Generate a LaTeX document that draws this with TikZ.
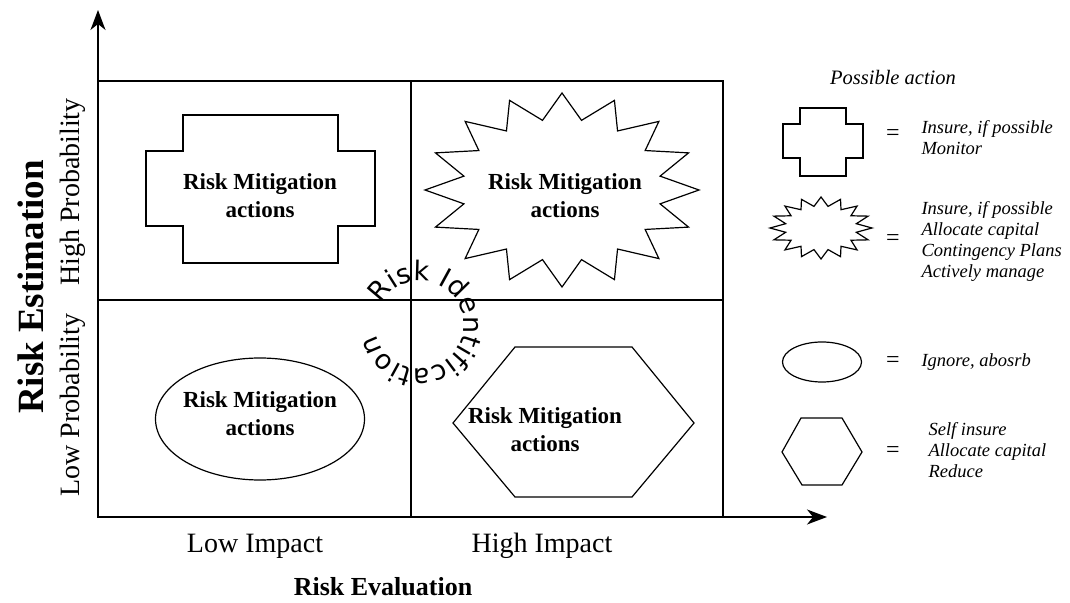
\documentclass[tikz,border=0pt]{standalone}
\usepackage{fontspec}
\setmainfont{Liberation Serif}
\newfontfamily\arcfont{DejaVu Sans}
\usetikzlibrary{arrows.meta,decorations.text}

\begin{document}
\begin{tikzpicture}[x=1pt,y=1pt,
  frame/.style={line width=1.6pt},
  axis/.style={line width=1.6pt,-{Stealth[length=20pt,width=15pt,inset=6pt]}},
  outline/.style={line width=1.2pt},
  axislabel/.style={font=\fontsize{28}{32}\selectfont},
  axistitle/.style={font=\fontsize{26}{30}\selectfont\bfseries},
  celltext/.style={font=\fontsize{23}{28}\selectfont\bfseries, align=center},
  legendtext/.style={font=\fontsize{18.5}{21}\selectfont\itshape, align=left, anchor=west},
  eqsign/.style={font=\fontsize{24}{24}\selectfont},
]
\useasboundingbox (0,0) rectangle (1070,602);

% axes and the 2x2 grid
\coordinate (O) at (98,85);
\coordinate (ytip) at (98,592);
\coordinate (xtip) at (827,85);
\coordinate (TR) at (723,521);
\coordinate (midT) at (411,521);
\coordinate (midB) at (411,85);
\coordinate (midL) at (98,302);
\coordinate (midR) at (723,302);

\draw[frame] (O) rectangle (TR);
\draw[frame] (midT) -- (midB);
\draw[frame] (midL) -- (midR);
\draw[axis] (O) -- (ytip);
\draw[axis] (O) -- (xtip);

% axis labels
\node[axislabel] (lowimp) at (255,56) {Low Impact};
\node[axislabel] (highimp) at (542,56) {High Impact};
\node[axistitle] (evaltitle) at (383,15) {Risk Evaluation};
\node[axistitle, font=\fontsize{37}{40}\selectfont\bfseries, rotate=90] (esttitle) at (31,315) {Risk Estimation};
\node[axislabel, rotate=90] (highprob) at (73,410) {High Probability};
\node[axislabel, rotate=90] (lowprob) at (73,197) {Low Probability};

% high probability, low impact: cross
\node[celltext] (cellHL) at (260,406) {Risk Mitigation\\actions};
\draw[outline] (183,487) -- (338,487) -- (338,451) -- (375,451) -- (375,376)
  -- (338,376) -- (338,339) -- (183,339) -- (183,376) -- (146,376)
  -- (146,451) -- (183,451) -- cycle;

% high probability, high impact: star
\coordinate (starC) at (562,412);
\node[celltext] (cellHH) at (565,406) {Risk Mitigation\\actions};
\draw[outline, shift={(starC)}] (0:137 and 97)
  \foreach \k in {0,...,15}{ -- (\k*22.5+11.25:100 and 71) -- (\k*22.5+22.5:137 and 97) } -- cycle;

% low probability, low impact: ellipse
\node[celltext] (cellLL) at (260,188) {Risk Mitigation\\actions};
\draw[outline] (260,183) ellipse [x radius=104.5, y radius=61];

% low probability, high impact: hexagon
\node[celltext] (cellLH) at (545,172) {Risk Mitigation\\actions};
\draw[outline] (453,179) -- (515,255) -- (632,255) -- (694,179) -- (632,105) -- (515,105) -- cycle;

% curved title round the centre of the grid
\coordinate (arcC) at (420,277);
\path[decorate, decoration={text along path,
    text format delimiters={|}{|},
    text={|\arcfont\fontsize{27}{27}\selectfont|Risk Identification},
    text align={fit to path}}]
  ([shift={(152:44)}]arcC) arc[start angle=152, end angle=-168, radius=44];

% legend
\node[legendtext, font=\fontsize{20.5}{22}\selectfont\itshape, anchor=center] (legtitle) at (893,524) {Possible action};

\draw[outline] (800,494) -- (846,494) -- (846,478) -- (863,478) -- (863,444)
  -- (846,444) -- (846,426) -- (800,426) -- (800,444) -- (783,444)
  -- (783,478) -- (800,478) -- cycle;
\node[eqsign] (eq1) at (893,467) {=};
\node[legendtext] (leg1) at (918,464) {Insure, if possible\\Monitor};

\coordinate (lstarC) at (821,374);
\draw[outline, shift={(lstarC)}] (0:51 and 31)
  \foreach \k in {0,...,15}{ -- (\k*22.5+11.25:36 and 22) -- (\k*22.5+22.5:51 and 31) } -- cycle;
\node[eqsign] (eq2) at (893,362) {=};
\node[legendtext] (leg2) at (918,361) {Insure, if possible\\Allocate capital\\Contingency Plans\\Actively manage};

\draw[outline] (822,240) ellipse [x radius=39.5, y radius=20];
\node[eqsign] (eq3) at (893,240) {=};
\node[legendtext] (leg3) at (918,240) {Ignore, abosrb};

\draw[outline] (782,150) -- (801,184) -- (842,184) -- (862,150) -- (842,117) -- (802,117) -- cycle;
\node[eqsign] (eq4) at (893,150) {=};
\node[legendtext] (leg4) at (925,152) {Self insure\\Allocate capital\\Reduce};
\end{tikzpicture}
\end{document}
